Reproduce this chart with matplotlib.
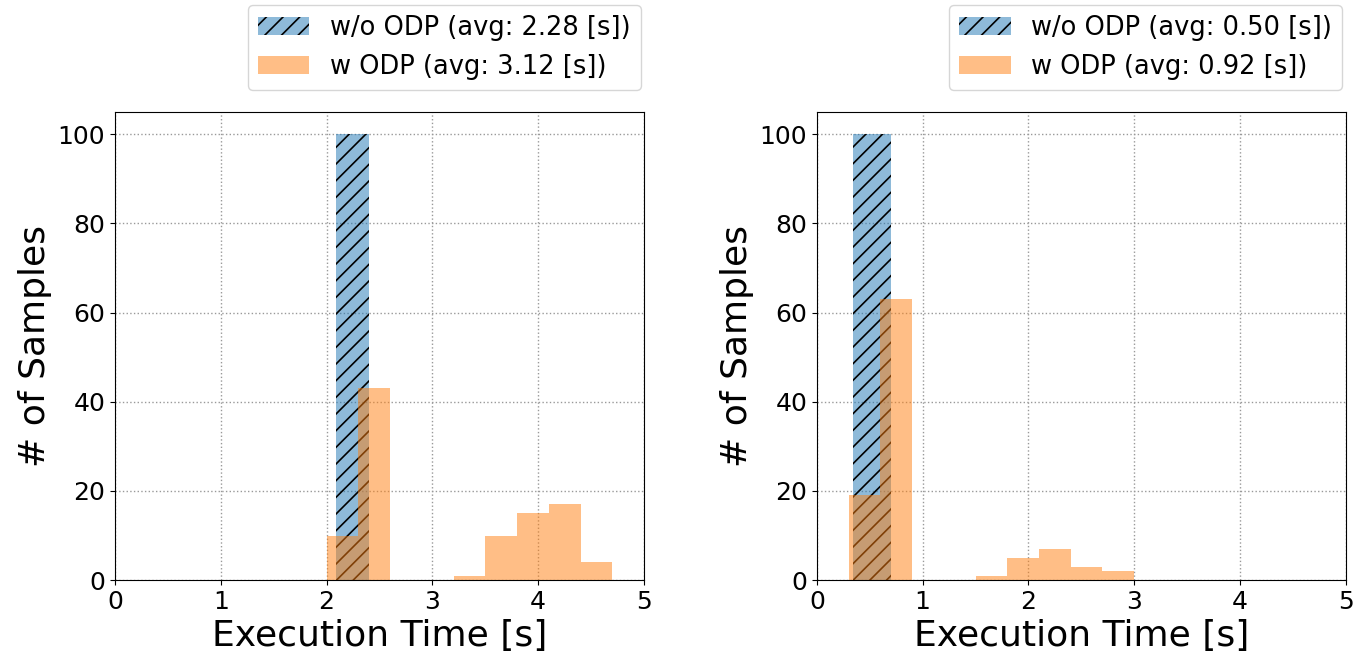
import matplotlib
matplotlib.use("Agg")
import matplotlib.pyplot as plt
import numpy as np

plt.rcParams['hatch.linewidth'] = 1.2

# Left panel data
left_wo_edges = [2.09, 2.40]
left_wo_counts = [100]
left_w_edges = [2.0, 2.3, 2.6, 2.9, 3.2, 3.5, 3.8, 4.1, 4.4, 4.7]
left_w_counts = [10, 43, 0, 0, 1, 10, 15, 17, 4]
left_labels = ["w/o ODP (avg: 2.28 [s])", "w ODP (avg: 3.12 [s])"]

# Right panel data
right_wo_edges = [0.345, 0.70]
right_wo_counts = [100]
right_w_edges = [0.3, 0.6, 0.9, 1.2, 1.5, 1.8, 2.1, 2.4, 2.7, 3.0]
right_w_counts = [19, 63, 0, 0, 1, 5, 7, 3, 2]
right_labels = ["w/o ODP (avg: 0.50 [s])", "w ODP (avg: 0.92 [s])"]

xticks = [0, 1, 2, 3, 4, 5]
yticks = [0, 20, 40, 60, 80, 100]

fig = plt.figure(figsize=(13.53, 6.57), dpi=100)
ax1 = fig.add_axes([0.085, 0.117, 0.391, 0.7125])
ax2 = fig.add_axes([0.6038, 0.117, 0.3907, 0.7125])

def draw(ax, wo_edges, wo_counts, w_edges, w_counts, labels):
    ax.set_axisbelow(True)
    ax.grid(True, linestyle=':', color='#999999', linewidth=1.0)
    wo_e = np.array(wo_edges)
    w_e = np.array(w_edges)
    ax.bar(wo_e[:-1], wo_counts, width=np.diff(wo_e), align='edge',
           color='tab:blue', alpha=0.5, hatch='//', linewidth=0, label=labels[0])
    ax.bar(w_e[:-1], w_counts, width=np.diff(w_e), align='edge',
           color='tab:orange', alpha=0.5, linewidth=0, label=labels[1])
    ax.set_xlim(0, 5)
    ax.set_ylim(0, 105)
    ax.set_xticks(xticks)
    ax.set_yticks(yticks)
    ax.tick_params(labelsize=18)
    ax.set_xlabel("Execution Time [s]", fontsize=26)
    ax.set_ylabel("# of Samples", fontsize=26)
    ax.legend(loc='lower right', bbox_to_anchor=(0.994, 1.047), borderaxespad=0,
              fontsize=18.5)

draw(ax1, left_wo_edges, left_wo_counts, left_w_edges, left_w_counts, left_labels)
draw(ax2, right_wo_edges, right_wo_counts, right_w_edges, right_w_counts, right_labels)

fig.savefig("out.png", dpi=100)
